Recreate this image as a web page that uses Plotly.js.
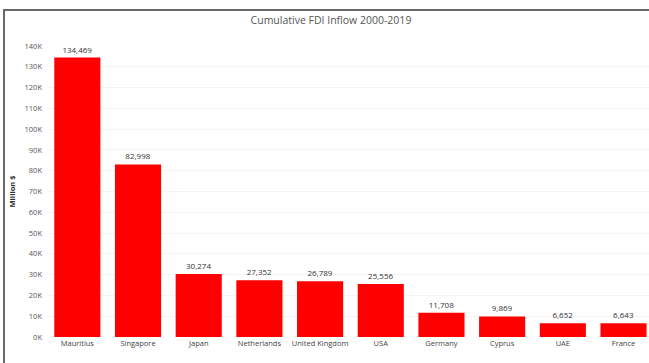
<!DOCTYPE html>
<html><head><meta charset="utf-8">
<script src="https://cdn.plot.ly/plotly-3.0.1.min.js"></script>
<style>
html,body{margin:0;padding:0;background:#fff;}
#wrap{position:relative;width:649px;height:363px;}
#chart{width:649px;height:363px;}
#frame{position:absolute;left:3px;top:9px;width:700px;height:400px;border-top:2px solid #6a6a6a;border-left:2px solid #6a6a6a;pointer-events:none;}
</style></head>
<body><div id="wrap"><div id="chart"></div><div id="frame"></div></div>
<script>
const countries = ["Mauritius","Singapore","Japan","Netherlands","United Kingdom","USA","Germany","Cyprus","UAE","France"];
const fdiInflow = [134469,82998,30274,27352,26789,25556,11708,9869,6652,6643];
const tickVals = [0,10000,20000,30000,40000,50000,60000,70000,80000,90000,100000,110000,120000,130000,140000];
const tickText = ["0K","10K","20K","30K","40K","50K","60K","70K","80K","90K","100K","110K","120K","130K","140K"];

const trace = {
  type:'bar', x:countries, y:fdiInflow,
  marker:{color:'#fe0000'}, width:0.76,
  text: fdiInflow.map(v=>v.toLocaleString('en-US')),
  textposition:'outside', cliponaxis:false,
  textfont:{family:'Open Sans, sans-serif', size:8, color:'#333'},
  hoverinfo:'none'
};
const layout = {
  width:649, height:363,
  margin:{l:47,r:0,t:46,b:26},
  paper_bgcolor:'#fff', plot_bgcolor:'#fff',
  showlegend:false,
  title:{text:'Cumulative FDI Inflow 2000-2019', x:0.51, xanchor:'center', y:0.945, yanchor:'middle',
         font:{family:'Open Sans, sans-serif', size:10.5, color:'#555'}},
  xaxis:{range:[-0.5,9.42], tickfont:{family:'Open Sans, sans-serif', size:7.5, color:'#444'},
         showgrid:false, zeroline:false, showline:false, ticks:'', fixedrange:true},
  yaxis:{range:[0,140000], tickvals:tickVals, ticktext:tickText,
         tickfont:{family:'Open Sans, sans-serif', size:7.5, color:'#555'},
         showgrid:true, gridcolor:'#f4f4f4', gridwidth:1, zeroline:false, showline:false, ticks:'',
         ticklabelstandoff:4,
         title:{text:'<b>Million $</b>', standoff:7, font:{family:'Open Sans, sans-serif', size:7.5, color:'#333'}}},
  bargap:0.24
};
Plotly.newPlot('chart',[trace],layout,{displayModeBar:false,staticPlot:true});
</script></body></html>
